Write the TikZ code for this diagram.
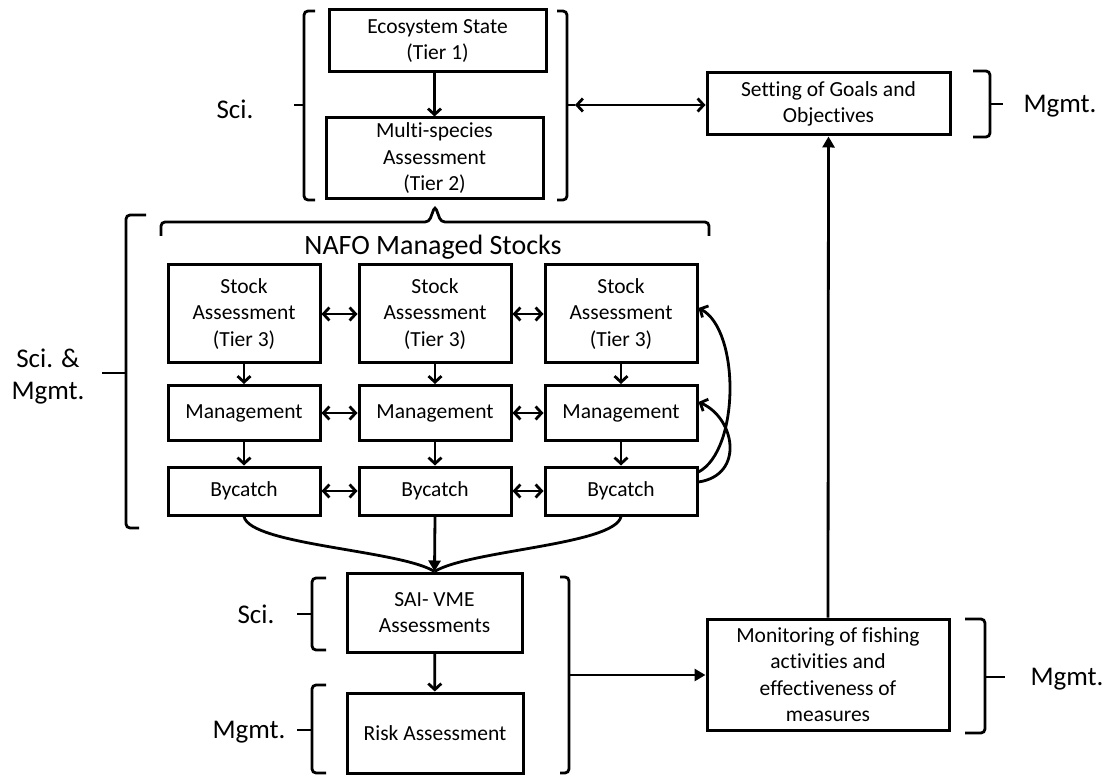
\documentclass[tikz,border=0pt]{standalone}
\usepackage{fontspec}
\setmainfont{Carlito}[Ligatures=NoCommon]
\usetikzlibrary{arrows.meta}
\begin{document}
\begin{tikzpicture}[x=1pt,y=-1pt,
  box/.style={draw,line width=3pt,align=center,inner sep=0pt,font=\fontsize{21.5}{26.5}\selectfont},
  lab/.style={align=center,inner sep=0pt,font=\fontsize{27}{32}\selectfont},
  conn/.style={line width=2.8pt},
  varr/.style={conn,-{Straight Barb[length=6pt,width=13pt]}},
  darr/.style={conn,{Straight Barb[length=6pt,width=13pt]}-{Straight Barb[length=6pt,width=13pt]}},
  farr/.style={conn,-{Triangle[length=11pt,width=12pt]}},
  brk/.style={line width=2.8pt,rounded corners=4pt},
]
\useasboundingbox (0,0) rectangle (1106,775);

% ---- top science block
\node[box,minimum width=217pt,minimum height=62pt] (eco) at (437.5,41) {Ecosystem State\\(Tier 1)};
\node[box,minimum width=217pt,minimum height=81pt] (multi) at (434.5,158.5) {Multi-species\\Assessment\\(Tier 2)};
\draw[varr] (eco.south -| multi.north) -- (multi.north);

\node[box,minimum width=243pt,minimum height=62pt] (set) at (828.5,104) {Setting of Goals and\\Objectives};
\node[box,minimum width=242pt,minimum height=111pt] (mon) at (828,674.5) {Monitoring of fishing\\activities and\\effectiveness of\\measures};

% ---- NAFO stocks
\node[font=\fontsize{28}{34}\selectfont,inner sep=0pt] (nafo) at (433,247) {NAFO Managed Stocks};
\foreach \i/\x in {1/244,2/435,3/621}{
  \node[box,minimum width=152pt,minimum height=98pt] (sa\i) at (\x,314) {Stock\\Assessment\\(Tier 3)};
  \node[box,minimum width=152pt,minimum height=55pt] (mg\i) at (\x,413) {Management};
  \node[box,minimum width=152pt,minimum height=48pt] (by\i) at (\x,491) {Bycatch};
  \draw[varr] (sa\i) -- (mg\i);
  \draw[varr] (mg\i) -- (by\i);
}
\draw[darr] (sa1) -- (sa2);
\draw[darr] (sa2) -- (sa3);
\draw[darr] (mg1) -- (mg2);
\draw[darr] (mg2) -- (mg3);
\draw[darr] (by1) -- (by2);
\draw[darr] (by2) -- (by3);

% feedback curves on the right
\draw[varr] ([yshift=19pt]by3.east) .. controls (740,450) and (740,330) .. ([yshift=6pt]sa3.east);
\draw[varr] ([yshift=9pt]by3.east) .. controls (745,475) and (735,418) .. ([yshift=11pt]mg3.east);

% ---- bottom block
\node[box,minimum width=175pt,minimum height=79pt] (sai) at (434.5,612.5) {SAI- VME\\Assessments};
\node[box,minimum width=176pt,minimum height=80pt] (risk) at (435,733) {Risk Assessment};
\draw[varr] (sai) -- (risk);

\draw[conn] (by1.south) .. controls (250,545) and (400,550) .. (sai.north);
\draw[conn] (by3.south) .. controls (615,545) and (470,550) .. (sai.north);
\draw[farr] (by2.south) -- (sai.north);

% ---- brackets and braces
% top science brackets
\draw[brk] (315,11) -- (304,11) -- (304,200) -- (315,200);
\draw[brk] (304,105) -- (294,105);
\draw[brk] (557,11) -- (567,11) -- (567,200) -- (557,200);
\coordinate (sciR) at (575,105);
\draw[brk] (567,105) -- (sciR);
\draw[darr] (sciR) -- (sciR -| set.west);
\node[lab] (lsci) at (235,109) {Sci.};

% setting brace
\draw[brk] (973,71) -- (990,71) -- (990,137) -- (973,137);
\draw[brk] (990,104) -- (1003,104);
\node[lab] (lmg1) at (1060,106) {Mgmt.};

% NAFO brace
\draw[brk] (161,236) -- (161,222) -- (429,222) -- (435,206) -- (441,222) -- (709,222) -- (709,236);

% Sci. & Mgmt. brace
\draw[brk] (146,215) -- (126,215) -- (126,528) -- (139,528);
\draw[brk] (126,373) -- (102,373);
\node[lab] (lscimg) at (48,377) {Sci. \&\\Mgmt.};

% bottom left brackets
\draw[brk] (326,578) -- (312,578) -- (312,650) -- (326,650);
\draw[brk] (312,614) -- (297,614);
\node[lab] (lsci2) at (256,614) {Sci.};
\draw[brk] (326,685) -- (312,685) -- (312,773) -- (326,773);
\draw[brk] (312,730) -- (297,730);
\node[lab] (lmg2) at (249,732) {Mgmt.};

% bottom right bracket
\draw[brk] (560,577) -- (569,577) -- (569,773) -- (560,773);
\coordinate (bigR) at (577,675);
\draw[brk] (569,675) -- (bigR);
\draw[farr] (bigR) -- (bigR -| mon.west);

% monitoring brace
\draw[brk] (965,619) -- (985,619) -- (985,733) -- (965,733);
\draw[brk] (985,677) -- (1005,677);
\node[lab] (lmg3) at (1067,679) {Mgmt.};

% monitoring to goals
\draw[farr] (mon.north) -- (set.south);
\end{tikzpicture}
\end{document}
